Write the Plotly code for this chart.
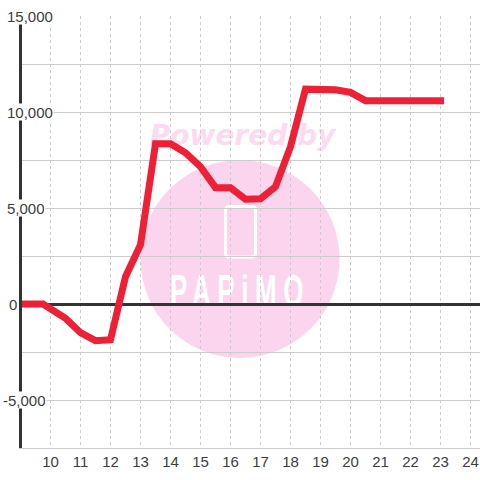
import plotly.graph_objects as go

hours = [9, 9.75, 10.5, 11, 11.5, 12, 12.5, 13, 13.5, 14, 14.5, 15, 15.5, 16, 16.5, 17, 17.5, 18, 18.5, 19, 19.5, 20, 20.5, 21, 21.5, 22, 22.5, 23]
values = [0, 0, -740, -1495, -1910, -1860, 1420, 3090, 8350, 8350, 7880, 7150, 6060, 6060, 5460, 5480, 6110, 8190, 11190, 11190, 11160, 11020, 10590, 10590, 10590, 10590, 10590, 10590]
x_ticks = list(range(10, 25))
y_label_values = [15000, 10000, 5000, 0, -5000]
y_label_texts = ["15,000", "10,000", "5,000", "0", "-5,000"]
y_label_left = [6, 6, 6, 8, 2]

W, H = 480, 480
L, R, T, B = 22, 0, 16, 32
INK = "#3d3d3d"
PINK = "#fbd5ee"
RED = "#ee2036"
GRID = "#cccccc"

def px(x):
    return (x - L) / (W - L - R)

def py(y):
    return 1 - (y - T) / (H - T - B)

fig = go.Figure(go.Scatter(
    x=hours, y=values, mode="lines", cliponaxis=False, hoverinfo="skip",
    line=dict(color=RED, width=7, shape="linear"),
))

def box(x0, y0, x1, y1, **kw):
    return dict(type="rect", xref="paper", yref="paper", x0=px(x0), x1=px(x1),
                y0=py(y1), y1=py(y0), layer="below", line_width=0, fillcolor="rgba(0,0,0,0)", **kw)

def rounded(x0, y0, x1, y1, r):
    pts = [("M", x0 + r, y0), ("L", x1 - r, y0), ("Q", x1, y0, x1, y0 + r), ("L", x1, y1 - r),
           ("Q", x1, y1, x1 - r, y1), ("L", x0 + r, y1), ("Q", x0, y1, x0, y1 - r), ("L", x0, y0 + r),
           ("Q", x0, y0, x0 + r, y0)]
    out = []
    for p in pts:
        c = p[0]
        nums = p[1:]
        coords = " ".join(f"{px(nums[i]):.5f},{py(nums[i + 1]):.5f}" for i in range(0, len(nums), 2))
        out.append(f"{c} {coords}")
    return " ".join(out) + " Z"

shapes = [
    dict(type="circle", xref="paper", yref="paper", x0=px(140.5), x1=px(339.5), y0=py(358), y1=py(160),
         layer="below", fillcolor=PINK, line_width=0),
    box(100, 112, 385, 154, label=dict(text="<b><i>Powered by</i></b>", textposition="middle center",
        font=dict(family="DejaVu Sans", size=28, color="#fcdaf1"))),
    box(140, 262, 340, 318, label=dict(text="PAPiMO", textposition="middle center",
        font=dict(family="Liberation Sans", size=26, color="#ffffff"))),
    dict(type="path", xref="paper", yref="paper", path=rounded(225.5, 206.5, 255.5, 257, 4),
         layer="below", fillcolor="rgba(0,0,0,0)", line=dict(color="#ffffff", width=3)),
]

annotations = [
    dict(xref="paper", yref="y", x=px(left), y=v, text=t, showarrow=False, xanchor="left", yanchor="middle",
         bgcolor="#ffffff", borderpad=0, height=16, font=dict(family="Liberation Sans", size=15, color=INK))
    for v, t, left in zip(y_label_values, y_label_texts, y_label_left)
]

fig.update_layout(
    width=W, height=H, margin=dict(l=L, r=R, t=T, b=B, pad=0), autosize=False,
    paper_bgcolor="#ffffff", plot_bgcolor="#ffffff", showlegend=False,
    shapes=shapes, annotations=annotations,
    font=dict(family="Liberation Sans", size=15, color=INK),
    xaxis=dict(range=[9.05, 24.317], tickmode="array", tickvals=x_ticks, ticks="", showgrid=True,
               gridcolor=GRID, gridwidth=1, griddash="3px,3px", zeroline=False,
               showline=True, linecolor=GRID, linewidth=1, tickfont=dict(size=15, color=INK)),
    yaxis=dict(range=[-7500, 15000], dtick=2500, tick0=0, showticklabels=False, ticks="",
               showgrid=True, gridcolor=GRID, gridwidth=1, zeroline=True, zerolinecolor="#333333",
               zerolinewidth=3, showline=True, linecolor="#333333", linewidth=3),
)

post = """
document.body.style.margin='0';
document.querySelectorAll('.scatterlayer path.js-line').forEach(function(p){
  p.style.strokeLinecap='square'; p.style.strokeLinejoin='miter'; p.style.strokeMiterlimit='10';
});
document.querySelectorAll('text').forEach(function(t){
  if(t.textContent==='PAPiMO'){
    t.style.letterSpacing='6.6px';
    t.style.fontWeight='bold';
    var b=t.getBBox();
    var base=b.y+b.height*0.8;
    var s=1.72;
    t.setAttribute('transform','translate(0,'+(306-base*s)+') scale(1,'+s+')');
  }
});
"""
fig.write_html("out.html", post_script=post, config=dict(displayModeBar=False, responsive=False))
